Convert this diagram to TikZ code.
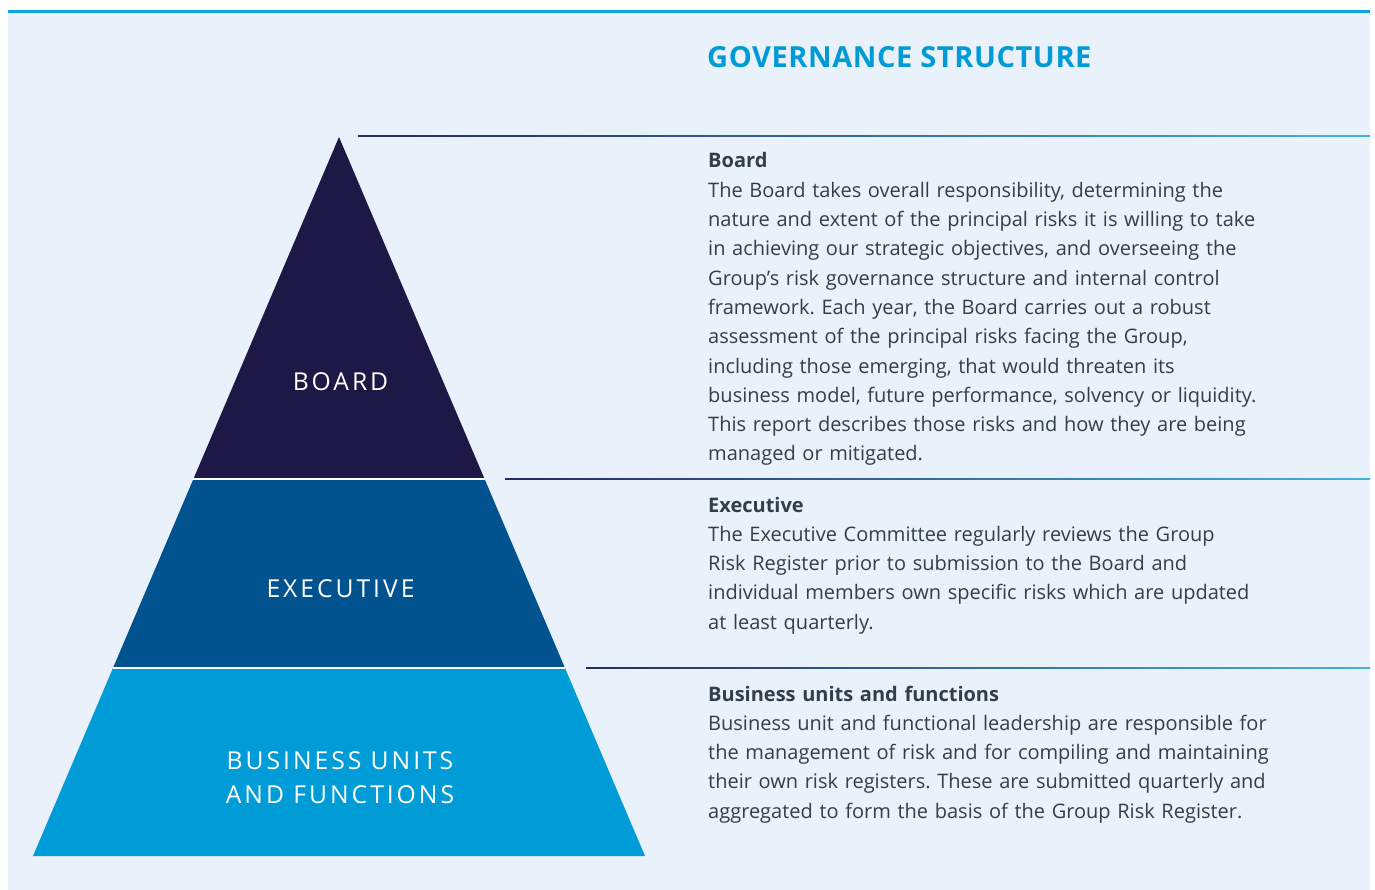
\documentclass[tikz,border=0pt]{standalone}
\usepackage{fontspec}
\setmainfont{Open Sans}
\newfontfamily\labelfont[LetterSpace=12]{Open Sans}
\newfontfamily\headfont[LetterSpace=2]{Open Sans}
\definecolor{bgblue}{HTML}{E9F1FA}
\definecolor{topline}{HTML}{0AA3DE}
\definecolor{boardc}{HTML}{1E1846}
\definecolor{execc}{HTML}{00538F}
\definecolor{busc}{HTML}{009CD8}
\definecolor{headc}{HTML}{009BD7}
\definecolor{bodyc}{HTML}{343E4A}
\definecolor{lineL}{HTML}{262A5E}
\definecolor{lineR}{HTML}{45B0E0}
\begin{document}
\frenchspacing
\begin{tikzpicture}[x=1pt,y=-1pt,
  bodytext/.style={anchor=base west,inner sep=0pt,text width=640pt,align=left,
    text=bodyc,font=\frenchspacing\fontsize{20}{29.3}\selectfont},
  pyrlabel/.style={text=white,inner sep=0pt,align=center,
    font=\labelfont\fontsize{24.7}{34}\selectfont},
  sepline/.style={left color=lineL,right color=lineR,draw=none}]
\useasboundingbox (0,0) rectangle (1375,890);
\fill[white] (0,0) rectangle (1375,890);
\fill[bgblue] (8,12) rectangle (1370,890);
\fill[topline] (8,10.5) rectangle (1370,13.5);
% pyramid
\coordinate (apex) at (339,137);
\coordinate (bl1) at (193.4,479);
\coordinate (br1) at (484.6,479);
\coordinate (bl2) at (113,668);
\coordinate (br2) at (565,668);
\coordinate (bl3) at (33,856);
\coordinate (br3) at (645,856);
\fill[boardc] (apex) -- (br1) -- (bl1) -- cycle;
\fill[execc] (bl1) -- (br1) -- (br2) -- (bl2) -- cycle;
\fill[busc] (bl2) -- (br2) -- (br3) -- (bl3) -- cycle;
\draw[white,line width=1.3pt] (bl1) -- (br1);
\draw[white,line width=1.3pt] (bl2) -- (br2);
% separator lines
\shade[sepline] (358,135.3) rectangle (1370,136.8);
\shade[sepline] (505,478.3) rectangle (1370,479.8);
\shade[sepline] (586,667.3) rectangle (1370,668.8);
% pyramid labels
\node[pyrlabel,anchor=base] (lboard) at (340.5,390) {BOARD};
\node[pyrlabel,anchor=base] (lexec) at (340.5,597) {EXECUTIVE};
\node[pyrlabel,anchor=base] (lbus1) at (340,769) {BUSINESS UNITS};
\node[pyrlabel,anchor=base] (lbus2) at (340,803) {AND FUNCTIONS};
% heading
\node[anchor=base west,inner sep=0pt,text=headc,font=\headfont\bfseries\fontsize{29}{32}\selectfont] (head) at (707,68) {GOVERNANCE STRUCTURE};
% texts
\node[bodytext] (tboard) at (708,168) {\textbf{Board}\\
The Board takes overall responsibility, determining the\\
nature and extent of the principal risks it is willing to take\\
in achieving our strategic objectives, and overseeing the\\
Group’s risk governance structure and internal control\\
framework. Each year, the Board carries out a robust\\
assessment of the principal risks facing the Group,\\
including those emerging, that would threaten its\\
business model, future performance, solvency or liquidity.\\
This report describes those risks and how they are being\\
managed or mitigated.};
\node[bodytext] (texec) at (708,512) {\textbf{Executive}\\
The Executive Committee regularly reviews the Group\\
Risk Register prior to submission to the Board and\\
individual members own specific risks which are updated\\
at least quarterly.};
\node[bodytext] (tbus) at (708,701) {\textbf{Business units and functions}\\
Business unit and functional leadership are responsible for\\
the management of risk and for compiling and maintaining\\
their own risk registers. These are submitted quarterly and\\
aggregated to form the basis of the Group Risk Register.};
\end{tikzpicture}
\end{document}
